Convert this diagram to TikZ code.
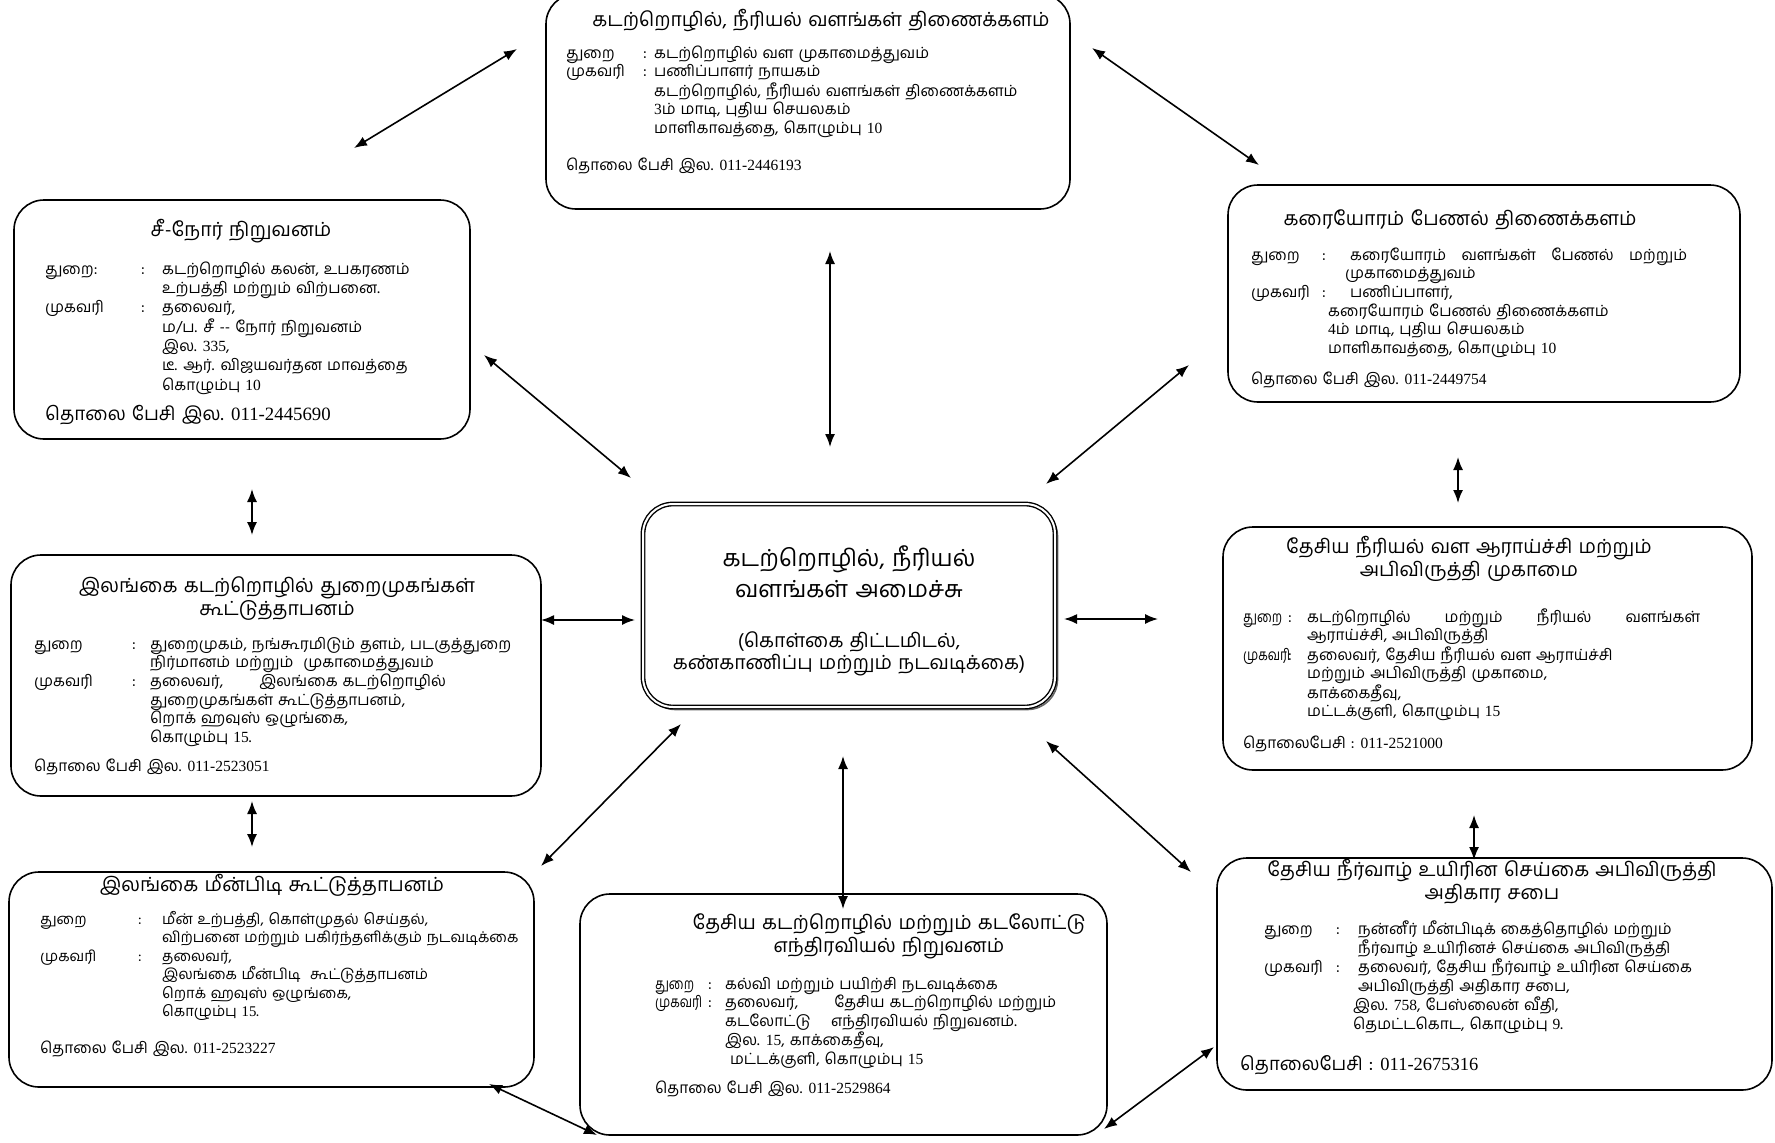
\documentclass[tikz,border=0pt]{standalone}
\usepackage{fontspec}
\usepackage{graphicx}
\usetikzlibrary{arrows.meta}
\setmainfont{Liberation Serif}
\newfontfamily\ta[Script=Tamil, WordSpace=1.3]{Hind Madurai}
\newcommand\dg[1]{{\rmfamily #1}}
\newcommand\nl[1]{\scalebox{0.8}[1]{#1}}
\begin{document}
\begin{tikzpicture}[x=1pt,y=-1pt,
  box/.style={draw, line width=1.6pt, rounded corners=30pt, inner sep=0pt, fill=white},
  ttl/.style={anchor=base, inner sep=0pt, font={\fontsize{19.5}{23.5}\ta}},
  body/.style={anchor=base west, inner sep=0pt, font={\fontsize{15.5}{18.7}\ta}},
  phone/.style={anchor=base west, inner sep=0pt, font={\fontsize{15.5}{18}\ta}},
  arr/.style={{Latex[length=13pt,width=10pt]}-{Latex[length=13pt,width=10pt]}, line width=1.6pt}]
\useasboundingbox (0,0) rectangle (1775,1143);
\fill[white] (0,0) rectangle (1775,1143);

% boxes
\node[box, minimum width=524pt, minimum height=215pt] (top) at (808,101.5) {};
\node[box, minimum width=456pt, minimum height=239pt] (seanor) at (242,319.5) {};
\node[box, minimum width=512pt, minimum height=217pt] (coast) at (1484,293.5) {};
\node[box, minimum width=530pt, minimum height=241pt] (ports) at (276,675.5) {};
\node[box, minimum width=529pt, minimum height=243pt] (nara) at (1487.5,648.5) {};
\node[box, minimum width=525pt, minimum height=215pt] (fish) at (271.5,979.5) {};
\node[box, minimum width=527pt, minimum height=241pt] (mari) at (843.5,1014.5) {};
\node[box, minimum width=555pt, minimum height=232pt] (aqua) at (1494.5,974) {};
% centre box with double border and shadow
\node[draw=black!60, line width=1.6pt, rounded corners=30pt, minimum width=412pt, minimum height=203pt] (censh) at (851.5,608) {};
\node[box, double=white, double distance=2pt, line width=1.4pt, minimum width=412pt, minimum height=203pt] (cen) at (849,605.5) {};

% top box text
\node[ttl] (topT) at (821,26) {கடற்றொழில், நீரியல் வளங்கள் திணைக்களம்};
\node[body] (topB) at (566,58) {\begin{tabular}[t]{@{}p{77pt}@{}p{11pt}@{}l@{}}
துறை & : & கடற்றொழில் வள முகாமைத்துவம்\\
முகவரி & : & பணிப்பாளர் நாயகம்\\
 & & கடற்றொழில், நீரியல் வளங்கள் திணைக்களம்\\
 & & \dg{3}ம் மாடி, புதிய செயலகம்\\
 & & மாளிகாவத்தை, கொழும்பு \dg{10}
\end{tabular}};
\node[phone] (topP) at (566,170) {தொலை பேசி இல. \dg{011-2446193}};

% sea-nor
\node[ttl] (snT) at (241,236) {சீ-நோர் நிறுவனம்};
\node[body, font={\fontsize{15.5}{19.3}\ta}] (snB) at (45,274) {\begin{tabular}[t]{@{}p{96pt}@{}p{21pt}@{}l@{}}
துறை: & : & கடற்றொழில் கலன், உபகரணம்\\
 & & உற்பத்தி மற்றும் விற்பனை.\\
முகவரி & : & தலைவர்,\\
 & & ம/ப. சீ -- நோர் நிறுவனம்\\
 & & இல. \dg{335},\\
 & & டீ. ஆர். விஜயவர்தன மாவத்தை\\
 & & கொழும்பு \dg{10}
\end{tabular}};
\node[phone, font={\fontsize{18.8}{20}\ta}] (snP) at (45,420) {தொலை பேசி இல. \dg{011-2445690}};

% coast
\node[ttl] (coT) at (1460,225) {கரையோரம் பேணல் திணைக்களம்};
\node[body] (coB) at (1251,260) {\begin{tabular}[t]{@{}p{71pt}@{}p{28pt}@{}l@{}}
துறை & : & \makebox[337pt][s]{கரையோரம் வளங்கள் பேணல் மற்றும்}\\
 & & \hspace*{-5pt}முகாமைத்துவம்\\
முகவரி & : & பணிப்பாளர்,\\
 & & \hspace*{-22pt}கரையோரம் பேணல் திணைக்களம்\\
 & & \hspace*{-22pt}\dg{4}ம் மாடி, புதிய செயலகம்\\
 & & \hspace*{-22pt}மாளிகாவத்தை, கொழும்பு \dg{10}
\end{tabular}};
\node[phone] (coP) at (1251,384) {தொலை பேசி இல. \dg{011-2449754}};

% centre text
\node[anchor=base, inner sep=0pt, font={\fontsize{23.5}{31}\ta}] (cenT) at (849,566) {\begin{tabular}[t]{@{}c@{}}கடற்றொழில், நீரியல்\\ வளங்கள் அமைச்சு\end{tabular}};
\node[anchor=base, inner sep=0pt, font={\fontsize{19.5}{22}\ta}] (cenS) at (849,647) {\begin{tabular}[t]{@{}c@{}}(கொள்கை திட்டமிடல்,\\ கண்காணிப்பு மற்றும் நடவடிக்கை)\end{tabular}};

% ports
\node[ttl] (poT) at (277,592) {\begin{tabular}[t]{@{}c@{}}இலங்கை கடற்றொழில் துறைமுகங்கள்\\ கூட்டுத்தாபனம்\end{tabular}};
\node[body] (poB) at (34,649) {\begin{tabular}[t]{@{}p{98pt}@{}p{18pt}@{}l@{}}
துறை & : & துறைமுகம், நங்கூரமிடும் தளம், படகுத்துறை\\
 & & நிர்மானம் மற்றும் \ முகாமைத்துவம்\\
முகவரி & : & தலைவர், \qquad இலங்கை கடற்றொழில்\\
 & & துறைமுகங்கள் கூட்டுத்தாபனம்,\\
 & & றொக் ஹவுஸ் ஒழுங்கை,\\
 & & கொழும்பு \dg{15}.
\end{tabular}};
\node[phone] (poP) at (34,771) {தொலை பேசி இல. \dg{011-2523051}};

% nara
\node[ttl] (naT) at (1469,553) {\begin{tabular}[t]{@{}c@{}}தேசிய நீரியல் வள ஆராய்ச்சி மற்றும்\\ அபிவிருத்தி முகாமை\end{tabular}};
\node[body] (naB) at (1243,622) {\begin{tabular}[t]{@{}p{45pt}@{}p{19pt}@{}l@{}}
\nl{துறை} & : & \makebox[393pt][s]{கடற்றொழில் மற்றும் நீரியல் வளங்கள்}\\
 & & ஆராய்ச்சி, அபிவிருத்தி\\
\nl{முகவரி} & : & தலைவர், தேசிய நீரியல் வள ஆராய்ச்சி\\
 & & மற்றும் அபிவிருத்தி முகாமை,\\
 & & காக்கைதீவு,\\
 & & மட்டக்குளி, கொழும்பு \dg{15}
\end{tabular}};
\node[phone] (naP) at (1243,748) {தொலைபேசி : \dg{011-2521000}};

% fisheries
\node[ttl] (fiT) at (272,891) {இலங்கை மீன்பிடி கூட்டுத்தாபனம்};
\node[body, font={\fontsize{14.8}{18.5}\ta}] (fiB) at (40,924) {\begin{tabular}[t]{@{}p{98pt}@{}p{24pt}@{}l@{}}
துறை & : & மீன் உற்பத்தி, கொள்முதல் செய்தல்,\\
 & & விற்பனை மற்றும் பகிர்ந்தளிக்கும் நடவடிக்கை\\
முகவரி & : & தலைவர்,\\
 & & இலங்கை மீன்பிடி \ கூட்டுத்தாபனம்\\
 & & றொக் ஹவுஸ் ஒழுங்கை,\\
 & & கொழும்பு \dg{15}.
\end{tabular}};
\node[phone] (fiP) at (40,1053) {தொலை பேசி இல. \dg{011-2523227}};

% maritime institute
\node[ttl] (maT) at (889,929) {\begin{tabular}[t]{@{}c@{}}தேசிய கடற்றொழில் மற்றும் கடலோட்டு\\ எந்திரவியல் நிறுவனம்\end{tabular}};
\node[body] (maB) at (655,989) {\begin{tabular}[t]{@{}p{53pt}@{}p{17pt}@{}l@{}}
\nl{துறை} & : & கல்வி மற்றும் பயிற்சி நடவடிக்கை\\
\nl{முகவரி} & : & தலைவர், \qquad தேசிய கடற்றொழில் மற்றும்\\
 & & கடலோட்டு \quad எந்திரவியல் நிறுவனம்.\\
 & & இல. \dg{15}, காக்கைதீவு,\\
 & & \ மட்டக்குளி, கொழும்பு \dg{15}
\end{tabular}};
\node[phone] (maP) at (655,1093) {தொலை பேசி இல. \dg{011-2529864}};

% aquaculture
\node[ttl] (aqT) at (1492,876) {\begin{tabular}[t]{@{}c@{}}தேசிய நீர்வாழ் உயிரின செய்கை அபிவிருத்தி\\ அதிகார சபை\end{tabular}};
\node[body] (aqB) at (1264,934) {\begin{tabular}[t]{@{}p{72pt}@{}p{22pt}@{}l@{}}
துறை & : & நன்னீர் மீன்பிடிக் கைத்தொழில் மற்றும்\\
 & & நீர்வாழ் உயிரினச் செய்கை அபிவிருத்தி\\
முகவரி & : & தலைவர், தேசிய நீர்வாழ் உயிரின செய்கை\\
 & & அபிவிருத்தி அதிகார சபை,\\
 & & \hspace*{-5pt}இல. \dg{758}, பேஸ்லைன் வீதி,\\
 & & \hspace*{-5pt}தெமட்டகொட, கொழும்பு \dg{9}.
\end{tabular}};
\node[phone, font={\fontsize{18.5}{20}\ta}] (aqP) at (1240,1070) {தொலைபேசி : \dg{011-2675316}};

% arrow end coordinates
\coordinate (a1s) at (354,148); \coordinate (a1e) at (517,49);
\coordinate (a2s) at (1092,48); \coordinate (a2e) at (1259,165);
\coordinate (a3s) at (830,251); \coordinate (a3e) at (830,447);
\coordinate (a4s) at (484,355); \coordinate (a4e) at (631,478);
\coordinate (a5s) at (1189,365); \coordinate (a5e) at (1046,484);
\coordinate (a6s) at (252,489); \coordinate (a6e) at (252,535);
\coordinate (a7s) at (1458,457); \coordinate (a7e) at (1458,503);
\coordinate (a8s) at (541,620); \coordinate (a8e) at (635,620);
\coordinate (a9s) at (1064,619); \coordinate (a9e) at (1158,619);
\coordinate (a10s) at (252,801); \coordinate (a10e) at (252,847);
\coordinate (a11s) at (1474,815); \coordinate (a11e) at (1474,860);
\coordinate (a12s) at (681,724); \coordinate (a12e) at (541,866);
\coordinate (a13s) at (843,756); \coordinate (a13e) at (843,909);
\coordinate (a14s) at (1046,741); \coordinate (a14e) at (1191,872);
\coordinate (a15s) at (489,1084); \coordinate (a15e) at (597,1135);
\coordinate (a16s) at (1104,1129); \coordinate (a16e) at (1214,1047);

\foreach \i in {1,...,16} \draw[arr] (a\i s) -- (a\i e);
\end{tikzpicture}
\end{document}
